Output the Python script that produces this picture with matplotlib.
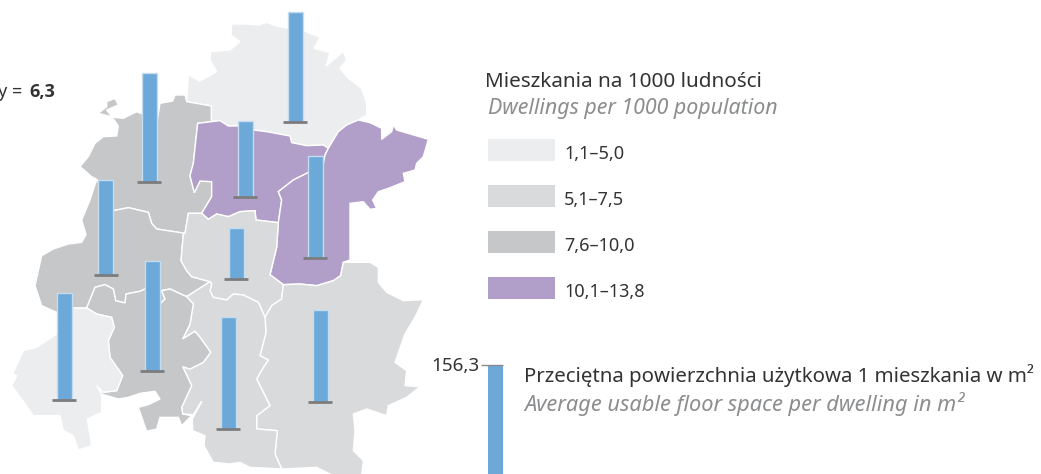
import numpy as np
import matplotlib
matplotlib.use("Agg")
import matplotlib.pyplot as plt
from matplotlib.patches import Polygon

plt.rcParams['font.family'] = ['Noto Sans', 'DejaVu Sans']

# Map outlines were traced at 3x, the lower half from a crop starting at y=234
def low(points):
    return [(x, y + 702) for x, y in points]

north = [(695,72),(740,72),(775,75),(800,67),(830,78),(865,85),(905,90),(960,112),(942,145),(990,158),(978,198),
         (1030,155),(1040,180),(1020,205),(1045,235),(1085,265),(1100,310),(1100,345),(1075,360),(1040,375),(1015,395),
         (1000,420),(985,445),(970,435),(920,437),(875,428),(870,408),(800,395),(760,390),(715,378),(685,378),(660,362),
         (634,365),(634,318),(560,305),(565,225),(600,243),(650,215),(630,180),(632,155),(690,150),(720,125),(693,105)]

northwest = [(345,295),(355,315),(320,330),(335,350),(355,378),(350,408),(310,410),(285,430),(265,470),(240,500),(275,530),
             (290,538),(340,632),(385,623),(445,637),(455,670),(470,687),(555,700),(565,640),(605,640),(635,590),(635,545),
             (600,543),(583,578),(570,527),(580,490),(593,370),(634,365),(634,318),(560,305),(555,285),(525,285),(518,303),
             (480,310),(472,360),(410,335),(370,355),(340,352),(295,340),(320,320),(320,305)]

west = [(290,538),(270,600),(245,660),(258,704)] + low([(245,25),(205,30),(160,45),(125,65),(105,155),(125,215),(170,235),
        (220,222),(260,222),(285,160),(315,152),(340,165),(347,200),(375,207),(378,180),(420,172),(435,165),(480,210),(495,195),
        (485,170),(510,165),(560,188),(630,143),(575,128),(560,110),(543,80),(550,0)]) + [(555,700),(470,687),(455,670),(445,637),
        (385,623),(340,632)]

center_purple = [(593,370),(634,365),(660,362),(685,378),(715,378),(760,390),(800,395),(870,408),(875,428),(920,437),(970,435),
                 (985,445),(975,465),(970,490),(920,520),(880,540),(835,575),(845,600),(835,668),(768,660),(765,632),(720,635),
                 (685,650),(650,642),(625,658),(605,640),(635,590),(635,545),(600,543),(583,578),(570,527),(580,490)]

east_purple = [(985,445),(1000,420),(1015,395),(1040,375),(1075,360),(1110,368),(1145,385),(1145,418),(1175,395),(1180,375),
               (1190,390),(1285,418),(1270,470),(1250,490),(1245,510),(1210,520),(1215,545),(1165,565),(1135,575),(1118,600),
               (1130,625),(1110,628),(1090,605),(1050,610),(1050,720)] + low([(1050,78),(1030,85),(1022,125),(1000,140),(950,155),
               (900,150),(850,152),(810,122),(830,40)]) + [(835,668),(845,600),(835,575),(880,540),(920,520),(970,490),(975,465)]

center_gray = [(555,700),(565,640),(605,640),(625,658),(650,642),(685,650),(720,635),(765,632),(768,660),(835,668)] + \
              low([(830,40),(810,122),(850,152),(845,195),(815,215),(795,250),(775,205),(730,183),(700,180),(680,198),(640,190),
                   (630,170),(635,150),(630,143),(575,128),(560,110),(543,80),(550,0)])

southeast = low([(850,152),(900,150),(950,155),(1000,140),(1022,125),(1030,85),(1110,85),(1135,100),(1135,145),(1160,175),
                 (1210,200),(1270,197),(1245,250),(1215,300),(1185,385),(1220,410),(1215,455),(1260,458),(1220,490),(1165,515),
                 (1160,545),(1100,525),(1060,540),(1065,590),(1060,650),(1090,680),(1085,725),(1000,725),(950,700),(845,705),
                 (825,660),(832,590),(770,585),(770,545),(810,515),(770,435),(790,400),(805,378),(780,365),(798,295),(795,250),
                 (815,215),(845,195)])

south = low([(560,188),(580,210),(570,270),(548,315),(585,292),(600,310),(632,355),(610,385),(570,405),(548,398),(575,455),
             (545,520),(548,540),(580,542),(605,502),(577,555),(578,590),(615,605),(612,635),(640,685),(690,690),(720,685),
             (750,700),(845,705),(825,660),(832,590),(770,585),(770,545),(810,515),(770,435),(790,400),(805,378),(780,365),
             (798,295),(795,250),(775,205),(730,183),(700,180),(680,198),(640,190),(630,170),(635,150),(630,143)])

mid = low([(260,222),(285,160),(315,152),(340,165),(347,200),(375,207),(378,180),(420,172),(435,165),(480,210),(495,195),
           (485,170),(510,165),(560,188),(580,210),(570,270),(548,315),(585,292),(600,310),(632,355),(610,385),(570,405),
           (548,398),(575,455),(545,520),(548,540),(575,545),(545,575),(535,550),(480,550),(470,585),(440,592),(415,520),
           (445,512),(480,495),(465,472),(420,478),(385,490),(355,495),(305,480),(290,455),(310,475),(350,470),(368,425),
           (330,370),(325,320),(343,280),(335,250),(290,240)])

southwest = low([(170,235),(220,222),(260,222),(290,240),(335,250),(343,280),(325,320),(330,370),(368,425),(350,470),(310,475),
                 (290,455),(305,480),(305,535),(262,555),(275,635),(235,648),(220,605),(190,590),(180,545),(100,545),(65,495),
                 (35,455),(50,425),(38,420),(70,350),(110,340),(170,300)])

# Legend classes
class_labels = ['1,1–5,0', '5,1–7,5', '7,6–10,0', '10,1–13,8']
class_colors = ['#ecedef', '#d9dadc', '#c6c7c9', '#b19fc9']

regions = [north, northwest, west, center_purple, east_purple, center_gray, southeast, south, mid, southwest]
region_class = [0, 2, 2, 3, 3, 1, 1, 1, 2, 0]

# Average usable floor space per dwelling, m2 (1 m2 drawn as 1 px), at each bar's foot
floor_space = [110, 109, 76, 102, 95, 51, 110, 107, 112, 92]
bar_x = [295, 149, 245, 315, 105.5, 236, 152, 64, 228, 320]
bar_base = [122, 182, 197, 258, 275, 279, 371, 400, 429, 402]
max_floor_space = 156.3

fig = plt.figure(figsize=(10.41, 4.74), dpi=100)
ax = fig.add_axes([0, 0, 1, 1])
ax.set_xlim(0, 1041)
ax.set_ylim(474, 0)
ax.axis('off')

for outline, cls in zip(regions, region_class):
    ax.add_patch(Polygon(np.array(outline) / 3, closed=True, facecolor=class_colors[cls],
                         edgecolor='white', linewidth=1.0, zorder=1))

ax.bar(bar_x, -np.array(floor_space), bottom=bar_base, width=15, color='#6ca8d8',
       edgecolor='#c4dcef', linewidth=1, zorder=3)
ax.hlines(bar_base, np.array(bar_x) - 12, np.array(bar_x) + 12, color='#7c7c7e', linewidth=2, zorder=4)

# Value legend, the bar runs off the bottom of the picture
ax.bar([495.5], [-max_floor_space], bottom=[365 + max_floor_space], width=15, color='#6ca8d8', zorder=3)
ax.hlines([365], 481, 503, color='#8a8a8c', linewidth=1, zorder=4)

dark = '#333333'
grey = '#8c8d8f'
ax.text(479, 366, '156,3', ha='right', va='center', fontsize=13.6, color=dark)
ax.text(524, 376, 'Przeciętna powierzchnia użytkowa 1 mieszkania w m²', va='center', fontsize=14.7, color=dark)
ax.text(524, 404, 'Average usable floor space per dwelling in m²', va='center', fontsize=15.7,
        color=grey, style='italic')

ax.text(485, 82, 'Mieszkania na 1000 ludności', va='center', fontsize=14.9, color=dark)
ax.text(488, 108, 'Dwellings per 1000 population', va='center', fontsize=15.4, color=grey, style='italic')

swatch_y = [139, 185, 231, 277]
for y, label, colour in zip(swatch_y, class_labels, class_colors):
    ax.fill_between([488, 555], y, y + 22, color=colour, linewidth=0)
    ax.text(564, y + 15, label, va='center', fontsize=13, color=dark)

ax.text(22, 92, 'y =', ha='right', va='center', fontsize=13, color=dark, clip_on=True)
ax.text(29, 92, '6,3', va='center', fontsize=13, color=dark, fontweight='bold', family=['Open Sans', 'DejaVu Sans'])

fig.savefig('out.png', dpi=100)
